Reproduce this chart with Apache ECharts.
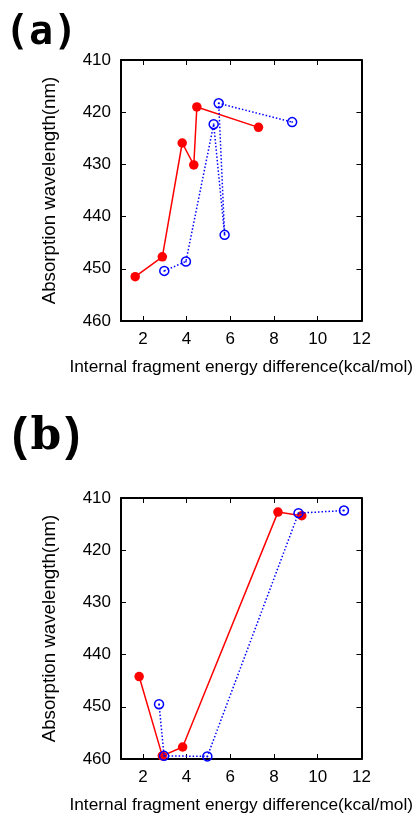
<!DOCTYPE html>
<html>
<head>
<meta charset="utf-8">
<script src="https://cdn.jsdelivr.net/npm/echarts@6/dist/echarts.min.js"></script>
<style>
  html, body { margin: 0; padding: 0; background: #fff; }
  #chart { width: 415px; height: 817px; }
</style>
</head>
<body>
<div id="chart"></div>
<script>
// Tick values shared by both panels
const xTickValues = [2, 4, 6, 8, 10, 12];
const yTickValues = [410, 420, 430, 440, 450, 460];

// Panel (a)
const aRedX  = [1.65, 2.89, 3.80, 4.33, 4.47, 7.29];
const aRedY  = [451.5, 447.7, 425.9, 430.1, 419.0, 422.9];
const aBlueX = [2.98, 3.97, 5.24, 5.74, 5.47, 8.83];
const aBlueY = [450.4, 448.6, 422.3, 443.5, 418.3, 421.9];

// Panel (b)
const bRedX  = [1.83, 2.89, 3.82, 8.18, 9.27];
const bRedY  = [444.2, 459.4, 457.7, 412.7, 413.4];
const bBlueX = [2.74, 2.97, 4.95, 9.12, 11.2];
const bBlueY = [449.5, 459.4, 459.5, 412.9, 412.4];

const xName = 'Internal fragment energy difference(kcal/mol)';
const yName = 'Absorption wavelength(nm)';

const pairs = (xs, ys) => xs.map((x, i) => [x, ys[i]]);

const RED = '#ff0000';
const BLUE = '#0000ff';
const FONT = 'Liberation Sans, Arial, sans-serif';

const grids = [
  { left: 121, top: 60, width: 241, height: 261 },
  { left: 121, top: 498, width: 241, height: 261 }
];

const xAxes = [];
const yAxes = [];
grids.forEach((g, gi) => {
  // bottom axis with labels
  xAxes.push({
    type: 'value', gridIndex: gi, position: 'bottom', min: 1, max: 12,
    name: xName, nameLocation: 'middle', nameGap: 38,
    nameTextStyle: { fontFamily: FONT, fontSize: 17.3, color: '#000' },
    axisLine: { show: true, onZero: false, lineStyle: { color: '#000', width: 2 } },
    axisTick: { show: true, inside: true, length: 5, customValues: xTickValues, lineStyle: { color: '#000', width: 1 } },
    axisLabel: { show: true, margin: 10, customValues: xTickValues, fontFamily: FONT, fontSize: 17, color: '#000' },
    splitLine: { show: false }
  });
  // mirrored top axis (ticks only)
  xAxes.push({
    type: 'value', gridIndex: gi, position: 'top', min: 1, max: 12,
    axisLine: { show: true, onZero: false, lineStyle: { color: '#000', width: 2 } },
    axisTick: { show: true, inside: true, length: 5, customValues: xTickValues, lineStyle: { color: '#000', width: 1 } },
    axisLabel: { show: false },
    splitLine: { show: false }
  });
  // left axis with labels
  yAxes.push({
    type: 'value', gridIndex: gi, position: 'left', inverse: true, min: 410, max: 460,
    name: yName, nameLocation: 'middle', nameGap: 62, nameRotate: 90,
    nameTextStyle: { fontFamily: FONT, fontSize: 18.7, color: '#000' },
    axisLine: { show: true, onZero: false, lineStyle: { color: '#000', width: 2 } },
    axisTick: { show: true, inside: true, length: 5, customValues: yTickValues, lineStyle: { color: '#000', width: 1 } },
    axisLabel: { show: true, margin: 10, customValues: yTickValues, fontFamily: FONT, fontSize: 17, color: '#000' },
    splitLine: { show: false }
  });
  // mirrored right axis (ticks only)
  yAxes.push({
    type: 'value', gridIndex: gi, position: 'right', inverse: true, min: 410, max: 460,
    axisLine: { show: true, onZero: false, lineStyle: { color: '#000', width: 2 } },
    axisTick: { show: true, inside: true, length: 5, customValues: yTickValues, lineStyle: { color: '#000', width: 1 } },
    axisLabel: { show: false },
    splitLine: { show: false }
  });
});

function redSeries(gi, xs, ys) {
  return {
    type: 'line', xAxisIndex: gi * 2, yAxisIndex: gi * 2, clip: false,
    data: pairs(xs, ys),
    symbol: 'circle', symbolSize: 9.5, showAllSymbol: true,
    lineStyle: { color: RED, width: 1.5 },
    itemStyle: { color: RED, borderWidth: 0 },
    emphasis: { disabled: true }, z: 3
  };
}
function blueSeries(gi, xs, ys) {
  return {
    type: 'line', xAxisIndex: gi * 2, yAxisIndex: gi * 2, clip: false,
    data: pairs(xs, ys),
    symbol: 'circle', symbolSize: 9, showAllSymbol: true,
    lineStyle: { color: BLUE, width: 1.5, type: [1.5, 2] },
    itemStyle: { color: 'rgba(0,0,0,0)', borderColor: BLUE, borderWidth: 1.5 },
    emphasis: { disabled: true }, z: 4
  };
}
function blueDots(gi, xs, ys) {
  return {
    type: 'scatter', xAxisIndex: gi * 2, yAxisIndex: gi * 2, clip: false,
    data: pairs(xs, ys),
    symbol: 'circle', symbolSize: 2,
    itemStyle: { color: BLUE },
    emphasis: { disabled: true }, z: 5
  };
}

const option = {
  animation: false,
  backgroundColor: '#fff',
  title: [
    { text: '(a)', left: 0, top: 9,
      textStyle: { fontFamily: 'DejaVu Sans Mono', fontWeight: 'bold', fontSize: 40, color: '#000' } },
    { text: '{p|(}{c|b}{p|)}', left: 2, top: 410,
      textStyle: {
        rich: {
          p: { fontFamily: 'Liberation Mono', fontWeight: 'bold', fontSize: 46, color: '#000', width: 26, align: 'center' },
          c: { fontFamily: 'DejaVu Serif', fontWeight: 'bold', fontSize: 44, color: '#000', width: 26, align: 'center' }
        }
      } }
  ],
  grid: grids,
  xAxis: xAxes,
  yAxis: yAxes,
  series: [
    redSeries(0, aRedX, aRedY),
    blueSeries(0, aBlueX, aBlueY),
    blueDots(0, aBlueX, aBlueY),
    redSeries(1, bRedX, bRedY),
    blueSeries(1, bBlueX, bBlueY),
    blueDots(1, bBlueX, bBlueY)
  ]
};

const chart = echarts.init(document.getElementById('chart'), null, { renderer: 'canvas' });
chart.setOption(option);
</script>
</body>
</html>
